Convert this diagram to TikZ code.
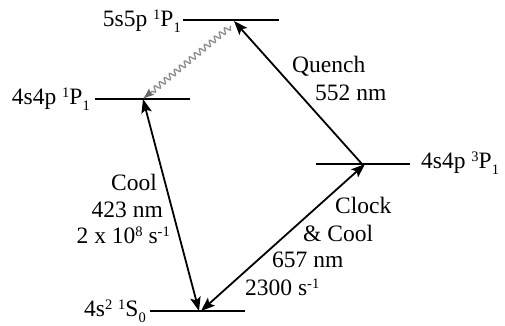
\documentclass[tikz,border=0pt]{standalone}
\usepackage{fontspec}
\setmainfont{Liberation Serif}
\usetikzlibrary{arrows.meta,decorations.pathmorphing,calc}
\newcommand{\upi}[1]{\raisebox{6.5pt}{\fontsize{14.5}{14.5}\selectfont #1}}
\newcommand{\dni}[1]{\raisebox{-6.5pt}{\fontsize{14.5}{14.5}\selectfont #1}}
\begin{document}
\begin{tikzpicture}[x=1pt,y=-1pt,
  font=\fontsize{23.5}{27}\selectfont,
  level/.style={line width=1.9pt},
  lbl/.style={inner sep=0pt},
  trans/.style={line width=1.8pt},
  wavy/.style={line width=1.3pt, black!45, decorate,
    decoration={snake, amplitude=2.8pt, segment length=6.5pt, pre length=1pt, post length=9pt}}]
\useasboundingbox (0,0) rectangle (505,325);
% level end points
\coordinate (a1) at (183,20);  \coordinate (a2) at (279,20);
\coordinate (b1) at (95,99);   \coordinate (b2) at (190,99);
\coordinate (c1) at (316,164); \coordinate (c2) at (410,164);
\coordinate (d1) at (150,311); \coordinate (d2) at (245,311);
% transition points
\coordinate (qt) at (234,21);
\coordinate (qb) at (362,164);
\coordinate (ct) at (365,164);
\coordinate (gb) at (199,311);
\coordinate (gc) at (201,311);
\coordinate (pt) at (143,99);
\coordinate (ws) at (231,26);
\coordinate (we) at (144,98);
% levels
\draw[level] (a1) -- (a2);
\draw[level] (b1) -- (b2);
\draw[level] (c1) -- (c2);
\draw[level] (d1) -- (d2);
% level labels
\node[lbl, anchor=base east] (la) at (181,26) {5s5p \upi{1}P\dni{1}};
\node[lbl, anchor=base east] (lb) at (90,104) {4s4p \upi{1}P\dni{1}};
\node[lbl, anchor=base west] (lc) at (421,168) {4s4p \upi{3}P\dni{1}};
\node[lbl, anchor=base east] (ld) at (146,316) {4s\upi{2} \upi{1}S\dni{0}};
% transitions
\draw[trans, {Stealth[length=14pt,width=10.5pt,inset=3pt]}-{Stealth[length=14pt,width=10.5pt,inset=3pt]}] (pt) -- (gb);
\draw[trans, {Stealth[length=14pt,width=10.5pt,inset=3pt]}-{Stealth[length=14pt,width=10.5pt,inset=3pt]}] (gc) -- (ct);
\draw[trans, -{Stealth[length=14pt,width=10.5pt,inset=3pt]}] (qb) -- (qt);
\draw[wavy] (ws) -- (we);
\draw[line width=1.3pt, black!60, -{Stealth[length=10pt,width=8pt,inset=2pt]}] ($(we)!9pt!(ws)$) -- (we);
% transition labels
\node[lbl, anchor=base west] (q1) at (292,72) {Quench};
\node[lbl, anchor=base west] (q2) at (315,100) {552 nm};
\node[lbl, anchor=base east] (k1) at (157,190) {Cool};
\node[lbl, anchor=base east] (k2) at (163,217) {423 nm};
\node[lbl, anchor=base east] (k3) at (170,243) {2 x 10\upi{8} s\upi{-1}};
\node[lbl, anchor=base west] (m1) at (335,213) {Clock};
\node[lbl, anchor=base west] (m2) at (303,241) {\& Cool};
\node[lbl, anchor=base west] (m3) at (272,267) {657 nm};
\node[lbl, anchor=base west] (m4) at (245,295) {2300 s\upi{-1}};
\end{tikzpicture}
\end{document}
